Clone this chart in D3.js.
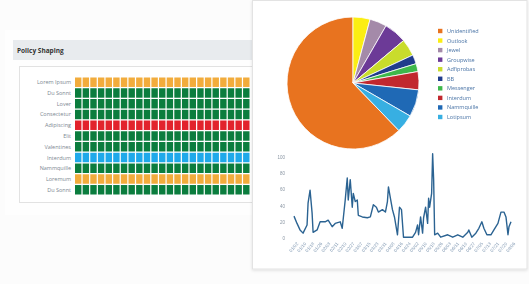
<!DOCTYPE html>
<html><head><meta charset="utf-8">
<script src="https://cdn.jsdelivr.net/npm/d3@7/dist/d3.min.js"></script>
<style>
html,body{margin:0;padding:0;background:#fcfcfc;overflow:hidden;}
svg{display:block;font-family:"Open Sans","Liberation Sans",sans-serif;filter:blur(0.35px);}
</style></head><body>
<script>
// ---- Heatmap (Policy Shaping) ----
const heatRows = ["Lorem Ipsum","Du Sonnt","Lover","Consectetur","Adipiscing","Elit","Valentines","Interdum","Nammquille","Loremum","Du Sonnt"];
const heatStatus = ["warn","ok","ok","ok","crit","ok","ok","info","ok","warn","ok"];
const heatColumns = d3.range(1, 24);
const statusColors = {ok:"#0b7d3e", warn:"#f2ac3c", crit:"#e2232c", info:"#1fa9ea"};

// ---- Pie ----
const pieLabels = ["Unidentified","Outlook","Jewel","Groupwise","Adfiprobas","BB","Messenger","Interdum","Nammquille","Lotipsum"];
const pieValues = [224,15,15,20,15,8,7,16,24,16];
const pieColors = ["#e8731f","#fbee13","#a48aa9","#6c3a97","#c9dc2c","#203c8c","#3eb84b","#c1282e","#1f69b5","#37afe2"];

// ---- Line ----
const lineDays = [0,3,6,9,13,14,16,18,19,23,26,31,34,38,41,46,48,51,53,54,56,58,59,61,63,64,68,73,76,79,82,84,88,91,93,94,96,98,100,103,105,107,109,113,118,121,123,124,126,128,129,131,133,134,135,137,138,139,140,143,146,153,158,163,168,173,174,177,181,184,187,189,192,196,199,203,206,209,211,213,214,216];
const lineValues = [27,18,10,6,16,43,59,31,7,10,20,20,22,14,18,20,12,47,74,47,72,38,55,45,47,28,26,25,26,41,38,32,35,32,45,63,49,35,26,4,38,35,1,1,1,7,16,4,26,6,25,38,18,49,38,55,104,72,4,6,1,4,1,4,1,7,10,1,6,12,20,12,4,4,10,18,32,32,26,4,14,20];
const yTicks = [0,20,40,60,80,100];
const xTickLabels = ["01/02","01/10","01/18","01/26","02/03","02/11","02/19","02/27","03/07","03/15","03/23","03/31","04/08","04/16","04/24","05/02","05/10","05/18","05/26","06/03","06/11","06/19","06/27","07/05","07/13","07/21","07/29","08/06"];

const W = 529, H = 284;
const svg = d3.select("body").append("svg").attr("width", W).attr("height", H);
const defs = svg.append("defs");
const sh = defs.append("filter").attr("id","shadow").attr("x","-5%").attr("y","-5%").attr("width","110%").attr("height","110%");
sh.append("feDropShadow").attr("dx",0).attr("dy",1).attr("stdDeviation",1.5).attr("flood-color","#000").attr("flood-opacity",0.12);

// ---- Left panel ----
svg.append("rect").attr("x",5).attr("y",30).attr("width",250).attr("height",185).attr("fill","#fefefe");
svg.append("rect").attr("x",13).attr("y",40).attr("width",240).attr("height",20).attr("fill","#e8ebee");
svg.append("text").attr("x",17).attr("y",52.5).attr("font-size",6.5).attr("font-weight","bold").attr("fill","#333").text("Policy Shaping");
svg.append("rect").attr("x",19.5).attr("y",66.5).attr("width",240).attr("height",136).attr("fill","#fff").attr("stroke","#e2e2e2");

const hx = d3.scaleBand().domain(heatColumns).range([75,249.5]).paddingInner(0.16);
const hy = d3.scaleBand().domain(d3.range(heatRows.length)).range([77.5,194.5]).paddingInner(0.12);
const hg = svg.append("g");
heatRows.forEach((r,i)=>{
  hg.selectAll(null).data(heatColumns).join("rect")
    .attr("x", c=>hx(c)).attr("y", hy(i)).attr("width", hx.bandwidth()).attr("height", hy.bandwidth())
    .attr("fill", statusColors[heatStatus[i]]);
});
hg.selectAll("text.rl").data(heatRows).join("text").attr("class","rl")
  .attr("x",71).attr("y",(d,i)=>hy(i)+hy.bandwidth()/2+2).attr("text-anchor","end")
  .attr("font-size",5.5).attr("fill","#7d8892").text(d=>d);

// ---- Right card ----
svg.append("rect").attr("x",252.5).attr("y",0.5).attr("width",274.5).attr("height",268.5)
  .attr("fill","#fff").attr("stroke","#e3e3e3").attr("filter","url(#shadow)");

// Pie
const cx = 353, cy = 83, R = 66;
const total = d3.sum(pieValues);
const orangeAngle = pieValues[0]/total*2*Math.PI;
const pie = d3.pie().sort(null).startAngle(-orangeAngle).endAngle(2*Math.PI-orangeAngle);
const arc = d3.arc().innerRadius(0).outerRadius(R);
svg.append("g").attr("transform",`translate(${cx},${cy})`)
  .selectAll("path").data(pie(pieValues)).join("path")
  .attr("d",arc).attr("fill",(d,i)=>pieColors[i]).attr("stroke","#fff").attr("stroke-width",0.8);

// Legend
const lg = svg.append("g");
const ly = d3.scalePoint().domain(d3.range(pieLabels.length)).range([31,117]);
lg.selectAll("rect").data(pieLabels).join("rect")
  .attr("x",438).attr("y",(d,i)=>ly(i)-2.2).attr("width",4.4).attr("height",4.4).attr("fill",(d,i)=>pieColors[i]);
lg.selectAll("text").data(pieLabels).join("text")
  .attr("x",447).attr("y",(d,i)=>ly(i)+2).attr("font-size",5.5).attr("fill","#4a74a6").text(d=>d);

// Line chart
const x = d3.scaleLinear().domain([0,216]).range([294,511]);
const y = d3.scaleLinear().domain([0,100]).range([238,157]);
const yAx = svg.append("g").attr("transform","translate(286,0)")
  .call(d3.axisLeft(y).tickValues(yTicks).tickSize(0).tickPadding(1));
yAx.select(".domain").remove();
yAx.selectAll("text").attr("font-size",4.5).attr("fill","#8a96a3").attr("font-family","inherit");

const xt = d3.scalePoint().domain(xTickLabels).range([294,511]);
const xAx = svg.append("g").attr("transform","translate(0,242)")
  .call(d3.axisBottom(xt).tickSize(0).tickPadding(0));
xAx.select(".domain").remove();
xAx.selectAll("text").attr("font-size",4.5).attr("fill","#8aa0b8").attr("font-family","inherit")
  .attr("text-anchor","end").attr("transform","translate(3,1) rotate(-50)").attr("dy","0.3em");

const pts = lineDays.map((d,i)=>[d,lineValues[i]]);
svg.append("path").datum(pts)
  .attr("fill","none").attr("stroke","#2b6392").attr("stroke-width",1.4).attr("stroke-linejoin","round")
  .attr("d", d3.line().x(d=>x(d[0])).y(d=>y(d[1])));
</script>
</body></html>
